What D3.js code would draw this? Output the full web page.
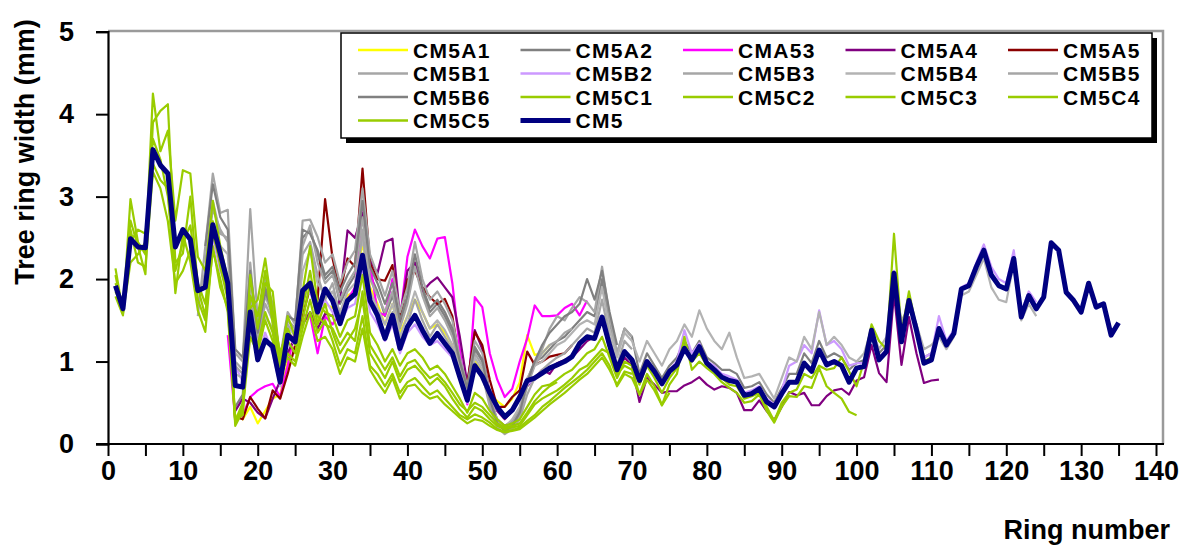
<!DOCTYPE html>
<html lang="en">
<head>
<meta charset="UTF-8">
<title>Tree ring width - CM5</title>
<script src="https://d3js.org/d3.v7.min.js"></script>
<style>
  body { margin: 0; background: #fff; }
  text { font-family: Arial, "Liberation Sans", sans-serif; font-weight: bold; fill: #000; }
</style>
</head>
<body>
<script>
// series names, in legend (and drawing) order
const seriesNames = ["CM5A1", "CM5A2", "CMA53", "CM5A4", "CM5A5",
                     "CM5B1", "CM5B2", "CM5B3", "CM5B4", "CM5B5",
                     "CM5B6", "CM5C1", "CM5C2", "CM5C3", "CM5C4",
                     "CM5C5", "CM5"];
// first ring number of each series
const firstRing = [17, 17, 16, 17, 17, 12, 14, 13, 13, 12, 13, 1, 1, 1, 1, 1, 1];

const CM5A1 = [0.35,0.30,0.45,0.25,0.40,0.55,0.60,1.00,1.35,1.50,1.55,1.50,1.70,1.65,
  1.60,1.80,1.85,2.45,1.90,1.70,1.45,1.70,1.35,1.55,1.75,1.60,1.40,1.45,1.35,1.20,0.85,0.55,1.00,0.90,
  0.62,0.52,0.45,0.55,0.75,1.32,1.08,1.10,1.20];
const CM5A2 = [0.45,0.60,2.00,1.40,1.90,1.65,1.00,1.50,1.40,2.50,2.60,2.30,2.00,2.10,
  1.70,1.90,2.05,2.90,2.05,1.85,1.55,1.80,1.45,1.75,2.20,1.85,1.60,1.70,1.55,1.35,0.95,0.65,1.15,1.00,
  0.55,0.30,0.22,0.28,0.42,0.78,1.00,1.05,1.15,1.25,1.30,1.40,1.50,1.60,1.55,2.00,1.45,1.10,1.40,1.30,
  0.85,1.10,0.95,0.80,0.95,1.05,1.25,1.10,1.25,1.05,0.98,0.90,0.90,0.85,0.68,0.70,0.75,0.60,0.50,0.68,
  0.85,0.85,1.10,0.98,1.25,1.05,1.10,1.05,0.90,0.98,1.02,1.40,1.10,1.20,1.95,1.35,1.70,1.45,1.05,1.10];
const CMA53 = [1.32,
  0.29,0.35,0.57,0.65,0.70,0.73,0.57,0.95,1.40,1.56,1.56,1.10,1.55,1.45,
  1.60,1.75,1.90,2.86,2.20,1.60,1.56,2.00,1.50,2.27,2.60,2.40,2.25,2.49,2.51,1.95,1.15,0.48,1.78,1.66,
  1.10,0.78,0.57,0.67,1.00,1.28,1.68,1.55,1.55,1.56,1.65,1.70,1.56,1.74];
const CM5A4 = [0.40,0.55,0.50,0.38,0.31,0.55,0.77,1.10,1.30,1.45,1.60,1.40,1.58,1.55,
  1.75,2.59,2.50,2.80,2.23,2.07,2.45,2.49,1.54,2.10,2.20,1.85,1.95,2.02,1.90,1.78,1.30,0.73,1.38,1.15,
  0.60,0.40,0.30,0.40,0.55,0.70,0.80,0.90,0.85,0.98,1.02,1.05,1.15,1.25,1.30,1.50,1.15,0.85,1.05,0.95,
  0.51,0.80,0.72,0.62,0.64,0.64,0.71,0.75,0.81,0.72,0.66,0.70,0.68,0.62,0.41,0.41,0.53,0.40,0.29,0.45,
  0.63,0.59,0.62,0.47,0.47,0.58,0.65,0.67,0.60,0.77,0.81,1.20,0.86,0.75,1.82,0.96,1.54,1.10,0.74,0.77,0.78];
const CM5A5 = [0.33,0.30,0.57,0.43,0.31,0.65,0.55,0.85,1.20,1.55,1.90,1.75,2.97,2.25,
  1.85,2.25,2.15,3.34,2.19,2.00,1.98,2.17,1.50,1.99,2.10,1.90,1.78,1.70,1.76,1.55,0.98,0.73,1.36,1.20,
  0.78,0.45,0.45,0.57,0.65,1.12,0.96,1.00,1.06,1.08,1.10,1.20];
const CM5B1 = [1.55,2.40,3.28,2.80,2.84,
  1.10,1.00,2.85,1.50,2.00,1.70,1.05,1.60,1.45,2.71,2.72,2.51,2.20,2.30,
  1.95,2.20,2.35,3.10,2.30,2.05,1.80,2.10,1.60,1.90,2.45,2.00,1.75,1.85,1.70,1.50,1.05,0.70,1.25,1.10,
  0.60,0.28,0.15,0.20,0.35,0.70,0.95,1.10,1.20,1.25,1.35,1.40];
const CM5B2 = [2.50,2.10,1.90,
  0.95,0.75,1.45,1.05,1.35,1.10,0.70,1.30,1.20,1.80,1.85,1.55,1.75,1.60,
  1.45,1.65,1.70,2.15,1.60,1.45,1.25,1.45,1.10,1.35,1.45,1.30,1.20,1.25,1.15,1.05,0.78,0.50,0.92,0.80,
  0.55,0.42,0.35,0.40,0.55,0.72,0.78,0.85,0.92,0.95,1.00,1.08,1.20,1.28,1.30,1.50,1.22,0.92,1.12,1.02,
  0.80,1.00,0.88,0.75,0.90,1.00,1.38,1.10,1.22,1.00,0.95,0.85,0.82,0.78,0.62,0.65,0.70,0.55,0.48,0.65,
  0.95,1.00,1.20,1.10,1.62,1.20,1.25,1.15,0.95,0.98,0.98,1.40,1.05,1.15,2.10,1.30,1.75,1.40,1.05,1.10,
  1.55,1.25,1.38,1.90,1.95,2.20,2.42,2.15,2.00,1.95,2.35,1.60,1.85,1.72];
const CM5B3 = [2.20,2.95,2.55,2.50,
  0.95,0.85,2.20,1.25,1.70,1.50,0.90,1.45,1.30,2.40,2.65,2.20,1.95,2.05,
  1.75,1.95,2.10,2.75,2.00,1.80,1.60,1.85,1.40,1.70,2.15,1.80,1.55,1.65,1.50,1.30,0.95,0.62,1.10,0.95,
  0.50,0.22,0.18,0.25,0.40,0.72,0.98,1.15,1.40,1.55,1.50,1.65,1.78,1.72,1.60,2.15,1.55,1.10,1.40,1.30];
const CM5B4 = [1.95,2.70,2.40,2.30,
  0.85,0.80,1.90,1.15,1.55,1.40,0.85,1.40,1.35,2.10,2.35,1.95,1.80,1.85,
  1.60,1.85,1.95,2.50,1.85,1.65,1.45,1.70,1.30,1.55,1.85,1.60,1.40,1.50,1.38,1.20,0.90,0.58,1.05,0.90,
  0.48,0.30,0.20,0.30,0.45,0.80,0.95,1.00,1.10,1.20,1.25,1.35,1.45,1.50,1.45,1.90,1.40,1.05,1.35,1.25,
  1.00,1.25,1.10,0.95,1.15,1.25,1.45,1.30,1.62,1.40,1.25,1.15,1.35,1.05,0.80,0.82,0.85,0.70,0.55,0.80,
  1.05,1.00,1.30,1.15,1.60,1.20,1.30,1.20,1.05,1.00,1.10,1.40,1.15,1.30,1.95,1.50,1.65,1.45,1.15,1.20,
  1.30,1.15,1.30,1.80,1.85,2.05,2.25,1.90,1.75,1.72,2.20,1.50,1.70,1.55];
const CM5B5 = [1.70,2.10,2.85,2.60,2.45,
  1.00,0.90,1.75,1.30,1.80,1.55,0.95,1.50,1.40,2.30,2.45,2.05,1.75,1.95,
  1.55,1.75,1.80,2.60,1.75,1.55,1.35,1.60,1.25,1.45,1.75,1.50,1.30,1.45,1.30,1.15,0.85,0.55,0.98,0.85,
  0.45,0.20,0.12,0.18,0.30,0.60,0.80,0.90,0.98,1.05,1.10,1.20,1.30,1.40,1.35,1.75,1.30,0.95,1.25,1.15];
const CM5B6 = [2.40,3.15,2.75,2.60,
  1.15,1.05,2.10,1.35,1.85,1.60,1.00,1.55,1.50,2.60,2.55,2.35,2.05,2.15,
  1.85,2.05,2.20,2.95,2.15,1.95,1.70,1.95,1.50,1.80,2.30,1.90,1.65,1.75,1.60,1.40,1.00,0.68,1.18,1.02,
  0.55,0.25,0.16,0.22,0.38,0.75,1.00,1.20,1.35,1.45,1.55,1.60,1.70,2.00,1.75,2.10,1.60,1.20];
const CM5C1 = [2.13,1.60,2.97,2.45,2.30,4.25,3.55,3.80,2.71,3.32,3.28,2.27,2.10,2.95,2.40,2.00,
  0.25,0.45,2.05,1.40,1.95,1.85,1.00,1.55,1.30,1.85,2.40,1.70,1.60,1.55,
  1.30,1.50,1.55,2.05,1.35,1.20,1.00,1.15,0.95,1.10,1.15,1.05,0.90,0.95,0.85,0.70,0.55,0.38,0.62,0.55,
  0.40,0.30,0.22,0.25,0.30,0.45,0.60,0.70,0.72,0.78,0.85,0.90,1.00,1.10,1.15,1.30,1.05,0.80,1.00,0.95,
  0.72,0.95,0.80,0.62,0.80,0.92,1.20,1.00,1.10,0.95,0.88,0.80,0.72,0.70,0.55,0.58,0.62,0.45,0.28,0.50,
  0.62,0.66,0.85,0.80,0.95,0.90,0.92,1.05,0.88,0.70,1.00,1.45,1.25,1.15,2.55,1.35,1.85,1.40,1.00,1.05];
const CM5C2 = [1.79,1.56,2.71,2.40,2.06,3.90,4.04,4.12,2.20,2.31,3.00,1.90,1.55,2.70,2.15,1.75,
  0.30,0.35,1.80,1.55,2.10,1.45,0.95,1.25,1.10,1.50,1.95,1.45,1.70,1.35,
  1.10,1.25,1.40,1.75,1.10,0.95,0.80,1.00,0.75,0.90,0.95,0.85,0.72,0.80,0.70,0.55,0.42,0.32,0.45,0.40,
  0.30,0.22,0.18,0.20,0.22,0.35,0.48,0.55,0.60,0.65,0.72,0.80,0.90,0.95,1.05,1.15,1.10,0.85,0.95,0.90,
  0.60,0.85,0.70,0.47,0.72,0.85,1.30,0.90,1.00,0.92,0.85,0.75,0.68,0.62,0.50,0.52,0.60,0.40,0.26,0.45,
  0.58,0.57,0.70,0.68,0.92,0.70,0.62,0.55,0.39,0.35];
const CM5C3 = [1.95,1.70,2.45,2.60,2.55,3.40,3.20,3.10,1.83,2.55,2.21,1.62,1.36,2.40,1.90,1.65,
  0.28,0.50,1.45,1.20,1.60,1.35,0.80,1.10,1.00,1.40,1.75,1.35,1.50,1.25,
  0.95,1.15,1.10,1.55,0.95,0.85,0.70,0.85,0.62,0.75,0.80,0.70,0.60,0.65,0.55,0.45,0.35,0.30,0.36,0.32,
  0.26,0.18,0.15,0.17,0.20,0.28,0.35,0.45,0.52,0.60,0.68,0.75,0.82,0.90,1.00,1.10,0.95,0.70,0.85,0.80,
  0.60,0.78,0.65,0.47,0.62];
const CM5C4 = [2.05,1.58,2.20,2.30,2.45,3.70,3.45,3.00,2.10,2.45,2.65,1.95,1.70,2.55,2.20,1.85,
  0.22,0.40,1.65,1.75,2.25,1.60,1.10,1.40,1.20,1.65,2.10,1.55,1.45,1.40,
  1.20,1.35,1.25,1.85,1.20,1.05,0.90,1.05,0.82,0.98,1.02,0.90,0.80,0.85,0.75,0.62,0.48,0.40,0.50,0.45,
  0.35,0.25,0.20,0.22,0.25,0.38,0.52,0.62,0.70,0.75];
const CM5C5 = [1.85,1.66,2.60,2.20,2.15,3.30,3.10,2.70,1.95,2.10,2.35,1.75,1.50,2.35,2.00,1.60,
  0.26,0.42,1.30,1.10,1.50,1.25,0.85,1.05,0.95,1.30,1.60,1.25,1.30,1.15,
  0.85,1.05,1.00,1.40,0.90,0.75,0.62,0.80,0.55,0.70,0.72,0.62,0.55,0.58,0.48,0.40,0.32,0.25,0.30,0.28,
  0.22,0.17,0.14,0.16,0.18,0.25,0.32,0.40,0.48,0.55,0.62,0.70,0.78,0.85,0.95,1.05,0.90,0.72,0.88,0.85];
const CM5 = [1.92,1.64,2.49,2.39,2.38,3.57,3.38,3.28,2.39,2.60,2.48,1.86,1.90,2.66,2.31,1.95,
  0.71,0.69,1.60,1.02,1.26,1.18,0.75,1.32,1.24,1.86,1.95,1.60,1.88,1.74,
  1.46,1.74,1.82,2.29,1.74,1.56,1.28,1.56,1.16,1.42,1.56,1.38,1.22,1.34,1.22,1.10,0.81,0.53,0.95,0.82,
  0.62,0.45,0.33,0.41,0.57,0.77,0.80,0.86,0.92,0.96,1.00,1.06,1.22,1.30,1.28,1.54,1.20,0.90,1.12,1.02,
  0.77,1.00,0.88,0.73,0.88,0.96,1.16,1.02,1.18,0.98,0.90,0.81,0.77,0.75,0.59,0.61,0.67,0.51,0.45,0.61,
  0.75,0.75,0.98,0.88,1.14,0.96,1.00,0.95,0.75,0.92,0.94,1.38,1.02,1.12,2.07,1.24,1.74,1.38,0.98,1.02,
  1.40,1.20,1.34,1.88,1.92,2.15,2.35,2.05,1.92,1.88,2.25,1.54,1.80,1.64,1.78,2.44,2.35,1.84,1.74,1.60,
  1.95,1.66,1.70,1.32,1.47];

const seriesValues = [CM5A1, CM5A2, CMA53, CM5A4, CM5A5, CM5B1, CM5B2, CM5B3, CM5B4, CM5B5,
                      CM5B6, CM5C1, CM5C2, CM5C3, CM5C4, CM5C5, CM5];
const seriesColors = ["#ffff00", "#808080", "#ff00ff", "#800080", "#8b0000",
                      "#a6a6a6", "#cc99ff", "#a6a6a6", "#b3b3b3", "#a6a6a6",
                      "#808080", "#99cc00", "#99cc00", "#99cc00", "#99cc00",
                      "#99cc00", "#000080"];

const yTicks = [0, 1, 2, 3, 4, 5];
const xTicks = d3.range(0, 141, 5);

const W = 1184, H = 550;
const plotLeft = 108, plotRight = 1163, plotTop = 31, plotBottom = 444;

const svg = d3.select('body').append('svg')
  .attr('width', W)
  .attr('height', H);

const x = d3.scaleLinear().domain([0, 140]).range([plotLeft, 1156]);
const y = d3.scaleLinear().domain([0, 5]).range([plotBottom, plotTop + 0.7]);

// grey frame of the plot area (top and right)
svg.append('path')
  .attr('d', `M${plotLeft},${plotTop}H${plotRight}V${plotBottom}`)
  .attr('fill', 'none')
  .attr('stroke', '#9a9a9a')
  .attr('stroke-width', 2.5);

// series lines
const series = seriesNames.map((name, i) => ({
  name: name,
  color: seriesColors[i],
  points: seriesValues[i].map((v, j) => ({ ring: firstRing[i] + j, value: v }))
}));

const line = d3.line()
  .x(d => x(d.ring))
  .y(d => y(d.value));

svg.append('g').selectAll('path')
  .data(series)
  .enter().append('path')
  .attr('d', d => line(d.points))
  .attr('fill', 'none')
  .attr('stroke', d => d.color)
  .attr('stroke-width', d => d.name === 'CM5' ? 5 : 2.2)
  .attr('stroke-linejoin', 'round');

// y axis
const yAxis = svg.append('g')
  .attr('transform', `translate(${plotLeft},0)`)
  .call(d3.axisLeft(y).tickValues(yTicks).tickSize(12).tickPadding(22).tickFormat(d3.format('d')));
yAxis.select('.domain').attr('stroke-width', 2.2);
yAxis.selectAll('.tick line').attr('stroke-width', 2);
yAxis.selectAll('.tick text').style('font-size', '27px');

// x axis
const xAxis = svg.append('g')
  .attr('transform', `translate(0,${plotBottom})`)
  .call(d3.axisBottom(x).tickValues(xTicks).tickSize(12).tickPadding(5)
    .tickFormat(d => d % 10 === 0 ? d : ''));
xAxis.select('.domain').remove();
xAxis.append('line')
  .attr('x1', 96).attr('x2', plotRight + 1)
  .attr('stroke', '#000')
  .attr('stroke-width', 2.2);
xAxis.selectAll('.tick line').attr('stroke-width', 2);
xAxis.selectAll('.tick text').style('font-size', '27px');

// axis titles
svg.append('text')
  .attr('transform', 'translate(34,152) rotate(-90)')
  .attr('text-anchor', 'middle')
  .style('font-size', '27px')
  .text('Tree ring width (mm)');

svg.append('text')
  .attr('x', 1170)
  .attr('y', 539)
  .attr('text-anchor', 'end')
  .style('font-size', '27px')
  .text('Ring number');

// legend
const legX = 341, legY = 33, legW = 811, legH = 105;
svg.append('rect')
  .attr('x', legX + 5).attr('y', legY + 5)
  .attr('width', legW).attr('height', legH)
  .attr('fill', '#000');
svg.append('rect')
  .attr('x', legX).attr('y', legY)
  .attr('width', legW).attr('height', legH)
  .attr('fill', '#fff')
  .attr('stroke', '#000')
  .attr('stroke-width', 1.5);

const legItem = svg.append('g').selectAll('g')
  .data(series)
  .enter().append('g')
  .attr('transform', (d, i) => `translate(${358 + (i % 5) * 162.5},${50 + Math.floor(i / 5) * 23.5})`);

legItem.append('line')
  .attr('x1', 0).attr('x2', 50)
  .attr('stroke', d => d.color)
  .attr('stroke-width', d => d.name === 'CM5' ? 5 : 2.5);

legItem.append('text')
  .attr('x', 55)
  .attr('dy', '0.36em')
  .style('font-size', '21px')
  .style('letter-spacing', '1.3px')
  .text(d => d.name);
</script>
</body>
</html>
